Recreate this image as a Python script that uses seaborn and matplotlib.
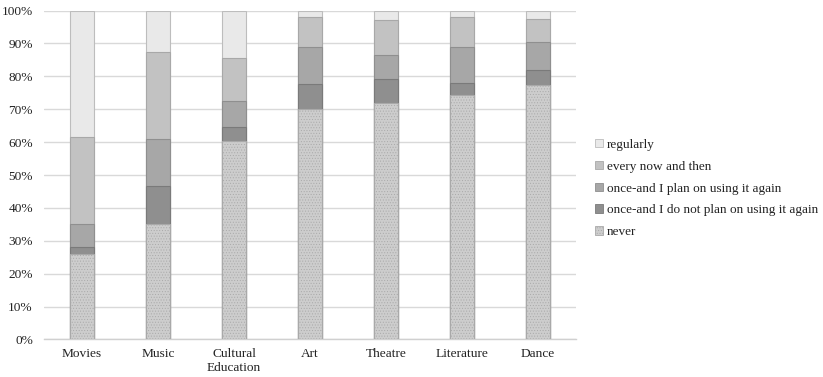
import matplotlib
matplotlib.use("Agg")
import matplotlib.pyplot as plt
import matplotlib.patches as mpatches
import numpy as np
import pandas as pd
import seaborn as sns

categories = ["Movies", "Music", "Cultural\nEducation", "Art", "Theatre", "Literature", "Dance"]
series_names = ["never", "once-and I do not plan on using it again",
                "once-and I plan on using it again", "every now and then", "regularly"]

never = [26.0, 35.0, 60.2, 70.2, 72.0, 74.4, 77.3]
once_no_again = [2.1, 11.8, 4.5, 7.6, 7.3, 3.5, 4.6]
once_plan_again = [7.1, 14.1, 7.9, 11.0, 7.1, 10.9, 8.4]
every_now_and_then = [26.3, 26.4, 13.1, 9.2, 10.6, 9.2, 7.0]
regularly = [38.5, 12.7, 14.3, 2.0, 3.0, 2.0, 2.7]

series_values = [never, once_no_again, once_plan_again, every_now_and_then, regularly]
fills = ["#cdcdcd", "#8f8f8f", "#a7a7a7", "#c2c2c2", "#e9e9e9"]
edges = ["#a9a9a9", "#7a7a7a", "#8f8f8f", "#a8a8a8", "#bdbdbd"]

sns.set_theme(style="white")
plt.rcParams["font.family"] = ["Liberation Serif", "DejaVu Serif"]
plt.rcParams["hatch.linewidth"] = 0.4
plt.rcParams["hatch.color"] = "#b8b8b8"

fig = plt.figure(figsize=(8.23, 3.77), dpi=100)
ax = fig.add_axes([0.0535, 0.0995, 0.6465, 0.8725])

# stacked bars: draw cumulative totals from the top series down
cum = np.cumsum(np.array(series_values), axis=0)
for i in range(len(series_names) - 1, -1, -1):
    df = pd.DataFrame({"cat": categories, "val": cum[i]})
    sns.barplot(data=df, x="cat", y="val", color=fills[i], width=0.31,
                saturation=1, edgecolor=edges[i], linewidth=0.8, ax=ax, zorder=3)
    if i == 0:
        for p in ax.patches[-len(categories):]:
            p.set_hatch("......")

ax.set_ylim(0, 100)
ax.set_xlim(-0.5, len(categories) - 0.5)
ax.set_yticks(np.arange(0, 101, 10))
ax.set_yticklabels([f"{v}%" for v in range(0, 101, 10)])
ax.set_xlabel("")
ax.set_ylabel("")
ax.yaxis.grid(True, color="#d9d9d9", linewidth=1.0, zorder=0)
ax.set_axisbelow(True)
for s in ["left", "right", "top"]:
    ax.spines[s].set_visible(False)
ax.spines["bottom"].set_color("#d0d0d0")
ax.spines["bottom"].set_linewidth(1.0)
ax.tick_params(axis="both", length=0, labelsize=9.6, colors="#222222", pad=6)
ax.tick_params(axis="y", pad=8)

handles = []
for i in range(len(series_names) - 1, -1, -1):
    h = mpatches.Patch(facecolor=fills[i], edgecolor=edges[i], linewidth=0.6,
                       hatch="......" if i == 0 else None, label=series_names[i])
    handles.append(h)
fig.legend(handles=handles, loc="center left", bbox_to_anchor=(0.708, 0.5),
           frameon=False, fontsize=9.5, handlelength=0.62, handleheight=0.62,
           handletextpad=0.3, labelspacing=0.75, labelcolor="#222222")

fig.savefig("out.png", dpi=100)
